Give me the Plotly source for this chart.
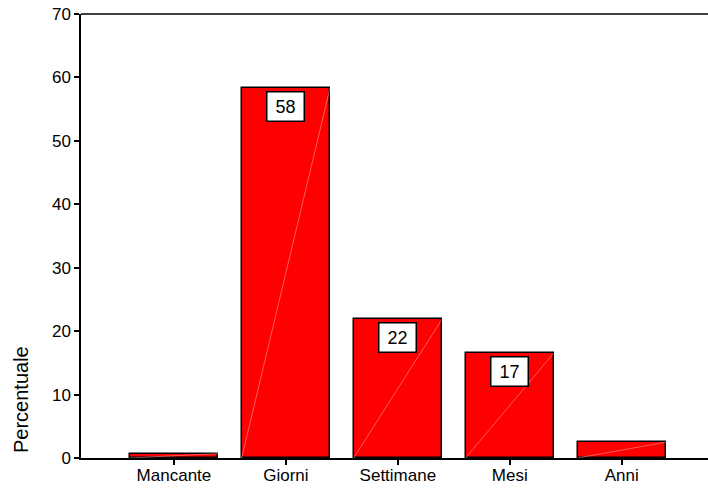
import plotly.graph_objects as go

categories = ["Mancante", "Giorni", "Settimane", "Mesi", "Anni"]
percent = [0.7, 58.4, 21.9, 16.6, 2.5]
y_ticks = [0, 10, 20, 30, 40, 50, 60, 70]

FONT = "Liberation Sans, Arial, Helvetica, sans-serif"
W, H = 708, 489
M_L, M_R, M_T, M_B = 81, 0, 14, 31

bar_width = 0.79
positions = list(range(len(categories)))

fig = go.Figure()
fig.add_trace(go.Bar(
    x=positions, y=percent, width=bar_width,
    marker=dict(color="#ff0000", line=dict(color="black", width=1.5)),
    hoverinfo="x+y", showlegend=False,
))

# faint diagonal seam across each bar
for i, v in zip(positions, percent):
    fig.add_trace(go.Scatter(
        x=[i - bar_width / 2, i + bar_width / 2], y=[0, v], mode="lines",
        line=dict(color="rgba(255,255,255,0.45)", width=0.8),
        hoverinfo="skip", showlegend=False,
    ))

# boxed value labels on the larger bars
for i, v in zip(positions, percent):
    if v >= 10:
        fig.add_annotation(
            x=i, y=v, text=f"{round(v)}", showarrow=False,
            yanchor="top", yshift=-3,
            font=dict(family=FONT, size=18, color="black"),
            bgcolor="white", bordercolor="black", borderwidth=1.5,
            width=36, height=28, borderpad=0,
        )

# vertical axis title, placed low beside the axis
plot_w = W - M_L - M_R
plot_h = H - M_T - M_B
fig.add_annotation(
    x=(21 - M_L) / plot_w, xref="paper", y=(H - M_B - 400) / plot_h, yref="paper",
    xanchor="center", yanchor="middle",
    text="Percentuale", showarrow=False, textangle=-90,
    font=dict(family=FONT, size=20, color="black"),
)

# top frame line
fig.add_shape(type="line", xref="paper", yref="paper", x0=0, x1=1, y0=1, y1=1,
              line=dict(color="black", width=1.5))

fig.update_layout(
    width=W, height=H,
    margin=dict(l=M_L, r=M_R, t=M_T, b=M_B),
    plot_bgcolor="white", paper_bgcolor="white",
    bargap=0,
    font=dict(family=FONT, size=17, color="black"),
    xaxis=dict(
        range=[-0.83, 4.77], tickmode="array", tickvals=positions, ticktext=categories,
        showgrid=False, zeroline=False, showline=True, linecolor="black", linewidth=1.5,
        ticks="outside", ticklen=5, tickwidth=1.5, tickcolor="black",
        ticklabelstandoff=-4,
    ),
    yaxis=dict(
        range=[0, 70], tickmode="array", tickvals=y_ticks,
        showgrid=False, zeroline=False, showline=True, linecolor="black", linewidth=1.5,
        ticks="outside", ticklen=5, tickwidth=1.5, tickcolor="black",
    ),
)

fig.write_html("out.html")
